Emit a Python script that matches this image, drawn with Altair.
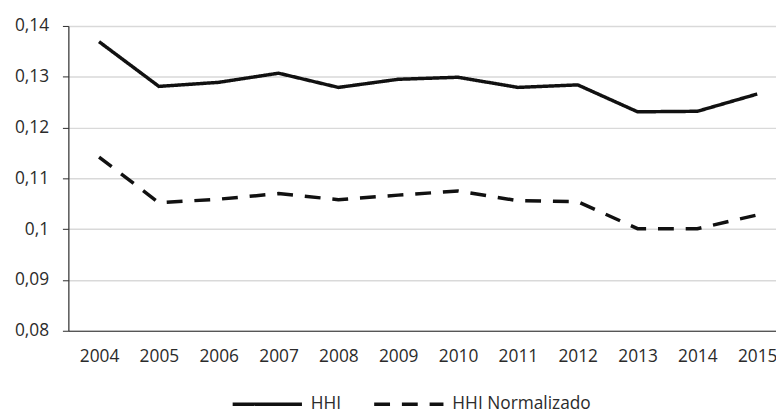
import altair as alt
import pandas as pd

years = list(range(2004, 2016))
hhi = [0.1369, 0.1281, 0.1289, 0.1307, 0.1279, 0.1295, 0.1299, 0.1279, 0.1284, 0.1231, 0.1232, 0.1266]
hhi_norm = [0.1142, 0.1052, 0.1059, 0.1070, 0.1058, 0.1067, 0.1075, 0.1056, 0.1054, 0.1001, 0.1001, 0.1028]
series = ["HHI", "HHI Normalizado"]
y_ticks = [0.08, 0.09, 0.10, 0.11, 0.12, 0.13, 0.14]

rows = []
for s, vals in zip(series, [hhi, hhi_norm]):
    for yr, v in zip(years, vals):
        rows.append({"year": yr, "value": v, "series": s})
df = pd.DataFrame(rows)

FONT = "Open Sans"
TXT = "#2b2b2b"

chart = alt.Chart(df).mark_line(strokeWidth=3.5, color="#111111").encode(
    x=alt.X(
        "year:Q",
        scale=alt.Scale(domain=[2003.487, 2015.314], nice=False, zero=False),
        axis=alt.Axis(values=years, format="d", title=None, grid=False, ticks=False,
                      labelPadding=17, labelFlush=False, domainColor=TXT, domainWidth=1.2,
                      labelColor=TXT, labelFontSize=17.5, labelFont=FONT),
    ),
    y=alt.Y(
        "value:Q",
        scale=alt.Scale(domain=[0.08, 0.14], nice=False, zero=False),
        axis=alt.Axis(values=y_ticks, labelExpr="replace(format(datum.value, '.2~f'), '.', ',')",
                      title=None, tickSize=6, tickColor=TXT, labelPadding=14,
                      grid=True, gridColor="#d9d9d9", gridWidth=1.5,
                      domainColor=TXT, domainWidth=1.2,
                      labelColor=TXT, labelFontSize=17.5, labelFont=FONT),
    ),
    strokeDash=alt.StrokeDash(
        "series:N",
        scale=alt.Scale(domain=series, range=[[1, 0], [16, 12]]),
        legend=alt.Legend(title=None, orient="none", direction="horizontal",
                          legendX=164, legendY=345, symbolType="stroke", symbolSize=4900,
                          symbolStrokeWidth=3.5, symbolStrokeColor="#111111",
                          labelFont=FONT, labelFontSize=17.5, labelColor=TXT,
                          labelOffset=7, columnPadding=26, padding=0),
    ),
).properties(
    width=715, height=308,
    autosize=alt.AutoSizeParams(type="none"),
    padding={"left": 61, "top": 16, "right": 0, "bottom": 85},
).configure_view(stroke=None)

chart.save("out.html", embed_options={"renderer": "svg", "actions": False})
